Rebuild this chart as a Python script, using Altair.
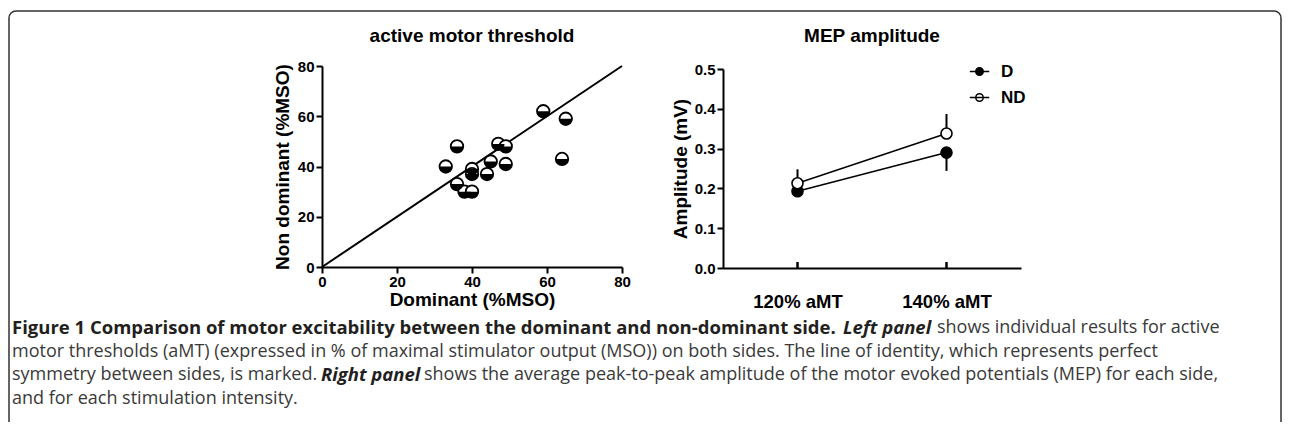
import altair as alt
import pandas as pd

# ---------------- data ----------------
# Left panel: active motor threshold (%MSO), one point per subject
dominant = [33, 36, 36, 38, 40, 40, 40, 44, 45, 47, 49, 49, 59, 64, 65]
non_dominant = [40, 48, 33, 30, 30, 39, 37, 37, 42, 49, 48, 41, 62, 43, 59]
identity = [0, 80]
amt_ticks = [0, 20, 40, 60, 80]

# Right panel: MEP amplitude (mV)
intensities = ["120% aMT", "140% aMT"]
sides = ["D", "ND"]
d_mean = [0.193, 0.290]
d_err = [0.013, 0.046]
nd_mean = [0.213, 0.338]
nd_err = [0.035, 0.049]
amp_ticks = [0.0, 0.1, 0.2, 0.3, 0.4, 0.5]

panel_titles = ["active motor threshold", "MEP amplitude"]
axis_titles = ["Dominant (%MSO)", "Non dominant (%MSO)", "Amplitude (mV)"]

caption_lines = [
    [("Figure 1 Comparison of motor excitability between the dominant and non-dominant side.", "bold", "normal"),
     ("Left panel", "bold", "italic"),
     ("shows individual results for active", "normal", "normal")],
    [("motor thresholds (aMT) (expressed in % of maximal stimulator output (MSO)) on both sides. The line of identity, which represents perfect", "normal", "normal")],
    [("symmetry between sides, is marked.", "normal", "normal"),
     ("Right panel", "bold", "italic"),
     ("shows the average peak-to-peak amplitude of the motor evoked potentials (MEP) for each side,", "normal", "normal")],
    [("and for each stimulation intensity.", "normal", "normal")],
]

# ---------------- layout (pixels, view coordinates) ----------------
W, H = 1274, 412
L_X = [314, 614]
L_Y = [257, 56]
R_X = [715, 1013]
R_Y = [258, 59]
caption_y = [318, 341.5, 365, 388.5]
caption_x = [[4, 835, 929], [4], [4, 313, 416], [4]]
FONT = "Liberation Sans"
CAP_FONT = "Open Sans"

HALF = "M-1,0A1,1,0,0,0,1,0Z"
LEG_SYM = "M-2.6,0L2.6,0M1,0A1,1,0,1,1,-1,0A1,1,0,1,1,1,0Z"

one = pd.DataFrame({"k": [0]})


def xl():
    return alt.Scale(domain=[0, 80], range=L_X, nice=False, zero=False)


def yl():
    return alt.Scale(domain=[0, 80], range=L_Y, nice=False, zero=False)


def xr():
    return alt.Scale(type="point", domain=intensities, range=R_X, padding=0.5)


def yr():
    return alt.Scale(domain=[0, 0.5], range=R_Y, nice=False, zero=False)


# ---------------- left panel ----------------
df_pts = pd.DataFrame({"D": dominant, "ND": non_dominant})
df_id = pd.DataFrame({"D": identity, "ND": identity})

id_line = alt.Chart(df_id).mark_line(color="black", strokeWidth=2).encode(
    x=alt.X("D:Q", scale=xl(), axis=alt.Axis(
        orient="bottom", offset=L_Y[0] - H, values=amt_ticks, format="d",
        title=axis_titles[0], tickSize=6, labelPadding=1, titlePadding=1,
        labelFlush=False)),
    y=alt.Y("ND:Q", scale=yl(), axis=alt.Axis(
        orient="left", offset=-L_X[0], values=amt_ticks, format="d",
        title=axis_titles[1], tickSize=6, labelPadding=2, titlePadding=5)),
)
white_pts = alt.Chart(df_pts).mark_point(
    shape="circle", filled=True, fill="white", stroke="black",
    strokeWidth=1.8, size=156, opacity=1
).encode(x=alt.X("D:Q", scale=xl(), axis=None), y=alt.Y("ND:Q", scale=yl(), axis=None))
half_pts = alt.Chart(df_pts).mark_point(
    shape=HALF, filled=True, fill="black", strokeWidth=0, size=156, opacity=1
).encode(x=alt.X("D:Q", scale=xl(), axis=None), y=alt.Y("ND:Q", scale=yl(), axis=None))

# ---------------- right panel ----------------
rows = []
for i, c in enumerate(intensities):
    rows.append({"cond": c, "side": "D", "mean": d_mean[i],
                 "lo": d_mean[i] - d_err[i], "hi": d_mean[i]})
    rows.append({"cond": c, "side": "ND", "mean": nd_mean[i],
                 "lo": nd_mean[i], "hi": nd_mean[i] + nd_err[i]})
df_r = pd.DataFrame(rows)

err = alt.Chart(df_r).mark_rule(color="black", strokeWidth=2).encode(
    x=alt.X("cond:N", scale=xr(), axis=alt.Axis(
        orient="bottom", offset=R_Y[0] - H, title=None, labelAngle=0,
        ticks=False, tickSize=0, labelPadding=24, labelFontSize=18.5)),
    y=alt.Y("lo:Q", scale=yr(), axis=alt.Axis(
        orient="left", offset=-R_X[0], values=amp_ticks, format=".1f",
        title=axis_titles[2], tickSize=6, labelPadding=2, titlePadding=4)),
    y2="hi:Q",
)
lines = alt.Chart(df_r).mark_line(color="black", strokeWidth=1.5).encode(
    x=alt.X("cond:N", scale=xr(), axis=None),
    y=alt.Y("mean:Q", scale=yr(), axis=None),
    detail="side:N",
)
pts = alt.Chart(df_r).mark_point(
    shape="circle", filled=True, stroke="black", strokeWidth=1.6, size=121, opacity=1
).encode(
    x=alt.X("cond:N", scale=xr(), axis=None),
    y=alt.Y("mean:Q", scale=yr(), axis=None),
    fill=alt.Fill("side:N", scale=alt.Scale(domain=sides, range=["black", "white"]),
                  legend=alt.Legend(
                      title=None, orient="none", legendX=963, legendY=53,
                      symbolType=LEG_SYM, symbolSize=56, symbolStrokeColor="black",
                      symbolStrokeWidth=1.5, labelFont=FONT, labelFontSize=17,
                      labelFontWeight="bold", labelColor="black", labelOffset=13,
                      rowPadding=8, padding=0)),
)
inner_ticks = alt.Chart(df_r).mark_rule(color="black", strokeWidth=2).encode(
    x=alt.X("cond:N", scale=xr(), axis=None),
    y=alt.value(R_Y[0]),
    y2=alt.value(R_Y[0] - 6),
)

# ---------------- frame, titles, caption ----------------
border = alt.Chart(one).mark_rect(
    fill="transparent", stroke="#333333", strokeWidth=1.5, cornerRadius=7
).encode(x=alt.value(1), x2=alt.value(W - 1), y=alt.value(1), y2=alt.value(H + 40))

texts = []
for t, cx in zip(panel_titles, [(L_X[0] + L_X[1]) / 2, (R_X[0] + R_X[1]) / 2]):
    texts.append(alt.Chart(one).mark_text(
        text=t, font=FONT, fontSize=19, fontWeight="bold", color="black",
        align="center", baseline="middle"
    ).encode(x=alt.value(cx), y=alt.value(26)))

for segs, xs, y in zip(caption_lines, caption_x, caption_y):
    for (s, wgt, sty), x in zip(segs, xs):
        texts.append(alt.Chart(one).mark_text(
            text=s, font=CAP_FONT, fontSize=18.5 if wgt == "bold" else 18,
            fontWeight=wgt, fontStyle=sty,
            color="#231f20" if wgt == "bold" else "#3a3a3a",
            align="left", baseline="middle"
        ).encode(x=alt.value(x), y=alt.value(y)))

chart = alt.layer(
    border, id_line, white_pts, half_pts, err, lines, pts, inner_ticks, *texts
).resolve_scale(
    x="independent", y="independent"
).properties(
    width=W, height=H,
    autosize=alt.AutoSizeParams(type="none"),
    padding={"left": 0, "top": 2, "right": 0, "bottom": 0},
).configure_view(stroke="transparent").configure_axis(
    domainColor="black", domainWidth=2, tickColor="black", tickWidth=2,
    labelColor="black", titleColor="black", labelFont=FONT, titleFont=FONT,
    labelFontWeight="bold", titleFontWeight="bold", labelFontSize=15,
    titleFontSize=19, grid=False,
)

chart.save("out.html", embed_options={"renderer": "svg", "actions": False})
